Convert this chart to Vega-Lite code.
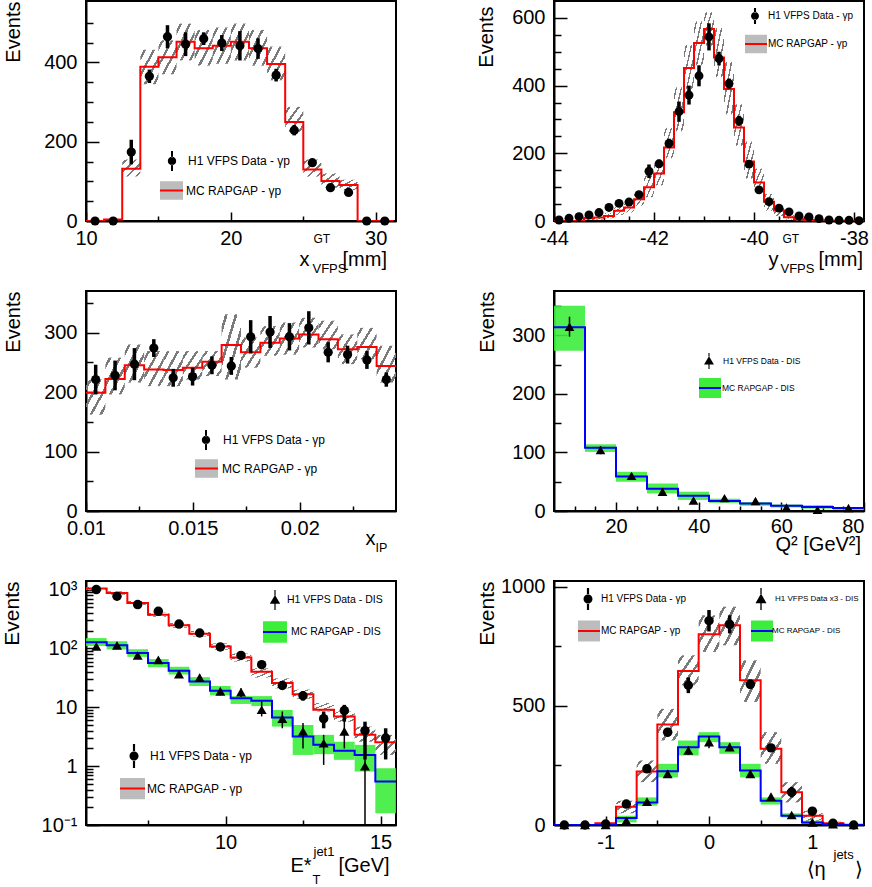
{
"$schema":"https://vega.github.io/schema/vega-lite/v6.json",
"padding":{"left":0,"top":0,"right":0,"bottom":0},
"config":{
 "font":"Liberation Sans",
 "view":{"stroke":"black","strokeWidth":2},
 "axis":{"domainColor":"black","domainWidth":2,"tickColor":"black","tickWidth":1.5,"labelColor":"black","labelFont":"Liberation Sans","labelFontSize":20,"titleFont":"Liberation Sans","titleColor":"black","titleFontWeight":"normal","titleFontSize":20,"grid":false,"labelFlush":false,"labelOverlap":false,"labelBound":false,"titleAlign":"left","titleBaseline":"alphabetic","titlePadding":0},
 "legend":{"padding":0,"labelFont":"Liberation Sans","labelColor":"black","labelLimit":500,"rowPadding":0}
},
"datasets":{
 "p1":[
  {"lo":10,"hi":11.25,"c":10.625,"mc":0,"d":0},
  {"lo":11.25,"hi":12.5,"c":11.875,"mc":4,"d":0},
  {"lo":12.5,"hi":13.75,"c":13.125,"mc":132,"b0":112,"b1":155,"d":174,"e0":143,"e1":205},
  {"lo":13.75,"hi":15,"c":14.375,"mc":389,"b0":345,"b1":432,"d":365,"e0":348,"e1":382},
  {"lo":15,"hi":16.25,"c":15.625,"mc":413,"b0":370,"b1":456,"d":465,"e0":436,"e1":494},
  {"lo":16.25,"hi":17.5,"c":16.875,"mc":452,"b0":405,"b1":498,"d":446,"e0":416,"e1":476},
  {"lo":17.5,"hi":18.75,"c":18.125,"mc":436,"b0":392,"b1":482,"d":460,"e0":444,"e1":476},
  {"lo":18.75,"hi":20,"c":19.375,"mc":442,"b0":397,"b1":488,"d":449,"e0":429,"e1":469},
  {"lo":20,"hi":21.25,"c":20.625,"mc":452,"b0":405,"b1":498,"d":442,"e0":405,"e1":479},
  {"lo":21.25,"hi":22.5,"c":21.875,"mc":436,"b0":392,"b1":482,"d":435,"e0":409,"e1":461},
  {"lo":22.5,"hi":23.75,"c":23.125,"mc":396,"b0":355,"b1":440,"d":368,"e0":352,"e1":384},
  {"lo":23.75,"hi":25,"c":24.375,"mc":250,"b0":225,"b1":288,"d":229,"e0":216,"e1":242},
  {"lo":25,"hi":26.25,"c":25.625,"mc":130,"b0":112,"b1":155,"d":147,"e0":139,"e1":155},
  {"lo":26.25,"hi":27.5,"c":26.875,"mc":101,"b0":84,"b1":120,"d":84,"e0":78,"e1":90},
  {"lo":27.5,"hi":28.75,"c":28.125,"mc":91,"b0":78,"b1":104,"d":72,"e0":66,"e1":78},
  {"lo":28.75,"hi":30,"c":29.375,"mc":0,"d":0},
  {"lo":30,"hi":31.25,"c":30.625,"mc":0,"d":0}
 ],
 "p2":[
  {"lo":-44,"hi":-43.8,"c":-43.9,"mc":0,"d":3,"e0":1,"e1":5},
  {"lo":-43.8,"hi":-43.6,"c":-43.7,"mc":0,"d":8,"e0":5,"e1":11},
  {"lo":-43.6,"hi":-43.4,"c":-43.5,"mc":0,"d":13,"e0":10,"e1":16},
  {"lo":-43.4,"hi":-43.2,"c":-43.3,"mc":8,"b0":3,"b1":13,"d":18,"e0":14,"e1":22},
  {"lo":-43.2,"hi":-43,"c":-43.1,"mc":10,"b0":4,"b1":17,"d":25,"e0":20,"e1":30},
  {"lo":-43,"hi":-42.8,"c":-42.9,"mc":15,"b0":8,"b1":24,"d":40,"e0":34,"e1":46},
  {"lo":-42.8,"hi":-42.6,"c":-42.7,"mc":30,"b0":18,"b1":42,"d":52,"e0":45,"e1":59},
  {"lo":-42.6,"hi":-42.4,"c":-42.5,"mc":40,"b0":25,"b1":55,"d":56,"e0":49,"e1":63},
  {"lo":-42.4,"hi":-42.2,"c":-42.3,"mc":64,"b0":45,"b1":85,"d":78,"e0":69,"e1":87},
  {"lo":-42.2,"hi":-42,"c":-42.1,"mc":100,"b0":70,"b1":135,"d":147,"e0":127,"e1":167},
  {"lo":-42,"hi":-41.8,"c":-41.9,"mc":140,"b0":105,"b1":175,"d":169,"e0":157,"e1":181},
  {"lo":-41.8,"hi":-41.6,"c":-41.7,"mc":217,"b0":185,"b1":275,"d":229,"e0":215,"e1":243},
  {"lo":-41.6,"hi":-41.4,"c":-41.5,"mc":321,"b0":265,"b1":395,"d":323,"e0":293,"e1":353},
  {"lo":-41.4,"hi":-41.2,"c":-41.3,"mc":452,"b0":390,"b1":520,"d":372,"e0":344,"e1":400},
  {"lo":-41.2,"hi":-41,"c":-41.1,"mc":526,"b0":460,"b1":590,"d":429,"e0":398,"e1":460},
  {"lo":-41,"hi":-40.8,"c":-40.9,"mc":567,"b0":518,"b1":617,"d":544,"e0":504,"e1":584},
  {"lo":-40.8,"hi":-40.6,"c":-40.7,"mc":483,"b0":425,"b1":570,"d":480,"e0":460,"e1":500},
  {"lo":-40.6,"hi":-40.4,"c":-40.5,"mc":390,"b0":315,"b1":470,"d":406,"e0":391,"e1":421},
  {"lo":-40.4,"hi":-40.2,"c":-40.3,"mc":276,"b0":222,"b1":345,"d":296,"e0":281,"e1":311},
  {"lo":-40.2,"hi":-40,"c":-40.1,"mc":176,"b0":125,"b1":235,"d":168,"e0":158,"e1":178},
  {"lo":-40,"hi":-39.8,"c":-39.9,"mc":114,"b0":84,"b1":155,"d":92,"e0":84,"e1":100},
  {"lo":-39.8,"hi":-39.6,"c":-39.7,"mc":57,"b0":30,"b1":80,"d":57,"e0":50,"e1":64},
  {"lo":-39.6,"hi":-39.4,"c":-39.5,"mc":31,"b0":15,"b1":45,"d":38,"e0":32,"e1":44},
  {"lo":-39.4,"hi":-39.2,"c":-39.3,"mc":11,"b0":4,"b1":20,"d":27,"e0":22,"e1":32},
  {"lo":-39.2,"hi":-39,"c":-39.1,"mc":5,"b0":1,"b1":10,"d":15,"e0":11,"e1":19},
  {"lo":-39,"hi":-38.8,"c":-38.9,"mc":3,"d":12,"e0":9,"e1":15},
  {"lo":-38.8,"hi":-38.6,"c":-38.7,"mc":2,"d":7,"e0":4,"e1":10},
  {"lo":-38.6,"hi":-38.4,"c":-38.5,"mc":1,"d":3,"e0":1,"e1":5},
  {"lo":-38.4,"hi":-38.2,"c":-38.3,"mc":1,"d":2,"e0":0,"e1":4},
  {"lo":-38.2,"hi":-38,"c":-38.1,"mc":0,"d":2,"e0":0,"e1":4},
  {"lo":-38,"hi":-37.8,"c":-37.9,"mc":0,"d":1,"e0":0,"e1":3}
 ],
 "p3":[
  {"lo":0.01,"hi":0.0109063,"c":0.0104531,"mc":199,"b0":162,"b1":221,"d":221,"e0":196,"e1":246},
  {"lo":0.0109063,"hi":0.0118125,"c":0.0113594,"mc":222,"b0":196,"b1":258,"d":228,"e0":203,"e1":253},
  {"lo":0.0118125,"hi":0.0127188,"c":0.0122656,"mc":245,"b0":216,"b1":280,"d":247,"e0":220,"e1":274},
  {"lo":0.0127188,"hi":0.013625,"c":0.0131719,"mc":238,"b0":210,"b1":269,"d":274,"e0":259,"e1":289},
  {"lo":0.013625,"hi":0.0145313,"c":0.0140781,"mc":237,"b0":210,"b1":269,"d":224,"e0":209,"e1":239},
  {"lo":0.0145313,"hi":0.0154375,"c":0.0149844,"mc":241,"b0":221,"b1":269,"d":226,"e0":211,"e1":241},
  {"lo":0.0154375,"hi":0.0163438,"c":0.0158906,"mc":251,"b0":227,"b1":269,"d":245,"e0":230,"e1":260},
  {"lo":0.0163438,"hi":0.01725,"c":0.0167969,"mc":279,"b0":221,"b1":331,"d":244,"e0":229,"e1":259},
  {"lo":0.01725,"hi":0.0181563,"c":0.0177031,"mc":267,"b0":241,"b1":292,"d":293,"e0":265,"e1":321},
  {"lo":0.0181563,"hi":0.0190625,"c":0.0186094,"mc":283,"b0":261,"b1":311,"d":301,"e0":274,"e1":328},
  {"lo":0.0190625,"hi":0.0199688,"c":0.0195156,"mc":290,"b0":263,"b1":317,"d":293,"e0":270,"e1":316},
  {"lo":0.0199688,"hi":0.020875,"c":0.0204219,"mc":297,"b0":275,"b1":325,"d":308,"e0":280,"e1":336},
  {"lo":0.020875,"hi":0.0217813,"c":0.0213281,"mc":289,"b0":272,"b1":320,"d":267,"e0":250,"e1":284},
  {"lo":0.0217813,"hi":0.0226875,"c":0.0222344,"mc":272,"b0":247,"b1":297,"d":263,"e0":248,"e1":278},
  {"lo":0.0226875,"hi":0.0235938,"c":0.0231406,"mc":276,"b0":255,"b1":308,"d":254,"e0":239,"e1":269},
  {"lo":0.0235938,"hi":0.0245,"c":0.0240469,"mc":244,"b0":216,"b1":278,"d":221,"e0":209,"e1":233}
 ],
 "p4":[
  {"lo":5,"hi":12.5,"c":8.75,"mc":314,"b0":274,"b1":351,"d":315,"e0":298,"e1":332},
  {"lo":12.5,"hi":20,"c":16.25,"mc":108,"b0":101,"b1":114,"d":104,"e0":97,"e1":111},
  {"lo":20,"hi":27.5,"c":23.75,"mc":59,"b0":50,"b1":67,"d":60,"e0":55,"e1":65},
  {"lo":27.5,"hi":35,"c":31.25,"mc":38,"b0":30,"b1":47,"d":33,"e0":29,"e1":37},
  {"lo":35,"hi":42.5,"c":38.75,"mc":26,"b0":19,"b1":33,"d":18,"e0":15,"e1":21},
  {"lo":42.5,"hi":50,"c":46.25,"mc":17,"b0":14,"b1":21,"d":22,"e0":19,"e1":25},
  {"lo":50,"hi":57.5,"c":53.75,"mc":13,"b0":9,"b1":15,"d":17,"e0":14,"e1":20},
  {"lo":57.5,"hi":65,"c":61.25,"mc":9,"b0":6,"b1":11,"d":6,"e0":4,"e1":8},
  {"lo":65,"hi":72.5,"c":68.75,"mc":7,"b0":4,"b1":10,"d":2,"e0":1,"e1":3},
  {"lo":72.5,"hi":80,"c":76.25,"mc":5,"b0":2,"b1":6,"d":5,"e0":3,"e1":7}
 ],
 "p5g":[
  {"lo":5.5,"hi":6.1667,"c":5.8333,"mc":1040,"b0":970,"b1":1110,"d":1000,"e0":970,"e1":1030},
  {"lo":6.1667,"hi":6.8333,"c":6.5,"mc":877,"b0":820,"b1":940,"d":771,"e0":748,"e1":794},
  {"lo":6.8333,"hi":7.5,"c":7.1667,"mc":593,"b0":550,"b1":640,"d":556,"e0":538,"e1":574},
  {"lo":7.5,"hi":8.1667,"c":7.8333,"mc":375,"b0":345,"b1":405,"d":428,"e0":413,"e1":443},
  {"lo":8.1667,"hi":8.8333,"c":8.5,"mc":247,"b0":225,"b1":270,"d":260,"e0":250,"e1":270},
  {"lo":8.8333,"hi":9.5,"c":9.1667,"mc":178,"b0":160,"b1":198,"d":183,"e0":175,"e1":191},
  {"lo":9.5,"hi":10.1667,"c":9.8333,"mc":108,"b0":95,"b1":122,"d":106,"e0":100,"e1":112},
  {"lo":10.1667,"hi":10.8333,"c":10.5,"mc":70,"b0":60,"b1":82,"d":76,"e0":71,"e1":81},
  {"lo":10.8333,"hi":11.5,"c":11.1667,"mc":40,"b0":32,"b1":46,"d":53,"e0":49,"e1":57},
  {"lo":11.5,"hi":12.1667,"c":11.8333,"mc":26,"b0":21,"b1":31,"d":23.5,"e0":20,"e1":27},
  {"lo":12.1667,"hi":12.8333,"c":12.5,"mc":16.7,"b0":14,"b1":20,"d":15.7,"e0":13,"e1":18.5},
  {"lo":12.8333,"hi":13.5,"c":13.1667,"mc":9.1,"b0":8.5,"b1":11.8,"d":6.4,"e0":4.4,"e1":8.5},
  {"lo":13.5,"hi":14.1667,"c":13.8333,"mc":7,"b0":5.7,"b1":8.5,"d":8.8,"e0":5.7,"e1":11},
  {"lo":14.1667,"hi":14.8333,"c":14.5,"mc":3.4,"b0":2.6,"b1":4.7,"d":4,"e0":1.3,"e1":5.7},
  {"lo":14.8333,"hi":15.5,"c":15.1667,"mc":2.55,"b0":1.55,"b1":3.4,"d":3,"e0":1.3,"e1":4.4}
 ],
 "p5d":[
  {"lo":5.5,"hi":6.1667,"c":5.8333,"mc":128,"b0":110,"b1":150,"d":108,"e0":98,"e1":118},
  {"lo":6.1667,"hi":6.8333,"c":6.5,"mc":113,"b0":96,"b1":132,"d":113,"e0":103,"e1":123},
  {"lo":6.8333,"hi":7.5,"c":7.1667,"mc":83.5,"b0":72,"b1":97,"d":76,"e0":69,"e1":83},
  {"lo":7.5,"hi":8.1667,"c":7.8333,"mc":56.5,"b0":48,"b1":66,"d":64,"e0":58,"e1":70},
  {"lo":8.1667,"hi":8.8333,"c":8.5,"mc":41.8,"b0":36,"b1":49,"d":36.7,"e0":32,"e1":41},
  {"lo":8.8333,"hi":9.5,"c":9.1667,"mc":27.5,"b0":23,"b1":32.5,"d":32,"e0":28,"e1":36},
  {"lo":9.5,"hi":10.1667,"c":9.8333,"mc":19.1,"b0":16,"b1":23,"d":18.6,"e0":16,"e1":21.5},
  {"lo":10.1667,"hi":10.8333,"c":10.5,"mc":14.3,"b0":11.4,"b1":15.5,"d":18.1,"e0":15,"e1":21},
  {"lo":10.8333,"hi":11.5,"c":11.1667,"mc":12.9,"b0":10.5,"b1":15.5,"d":9.1,"e0":7,"e1":12.5},
  {"lo":11.5,"hi":12.1667,"c":11.8333,"mc":6.7,"b0":4.7,"b1":9,"d":6.4,"e0":4.4,"e1":8.5},
  {"lo":12.1667,"hi":12.8333,"c":12.5,"mc":3.19,"b0":1.55,"b1":5,"d":3.9,"e0":2,"e1":5.4},
  {"lo":12.8333,"hi":13.5,"c":13.1667,"mc":2.3,"b0":1.6,"b1":3.4,"d":2.45,"e0":1.05,"e1":3.4},
  {"lo":13.5,"hi":14.1667,"c":13.8333,"mc":1.82,"b0":1.28,"b1":2.6,"d":3.9,"e0":2,"e1":6.1},
  {"lo":14.1667,"hi":14.8333,"c":14.5,"mc":1.55,"b0":0.81,"b1":2.3,"d":1,"e0":0.01,"e1":1.9},
  {"lo":14.8333,"hi":15.5,"c":15.1667,"mc":0.547,"b0":0.158,"b1":0.92}
 ],
 "p6g":[
  {"lo":-1.5,"hi":-1.3,"c":-1.4,"mc":0,"d":0},
  {"lo":-1.3,"hi":-1.1,"c":-1.2,"mc":0,"d":0},
  {"lo":-1.1,"hi":-0.9,"c":-1,"mc":7,"d":4},
  {"lo":-0.9,"hi":-0.7,"c":-0.8,"mc":77,"b0":49,"b1":102,"d":88,"e0":80,"e1":96},
  {"lo":-0.7,"hi":-0.5,"c":-0.6,"mc":225,"b0":180,"b1":271,"d":236,"e0":224,"e1":248},
  {"lo":-0.5,"hi":-0.3,"c":-0.4,"mc":422,"b0":355,"b1":488,"d":390,"e0":372,"e1":408},
  {"lo":-0.3,"hi":-0.1,"c":-0.2,"mc":647,"b0":587,"b1":713,"d":587,"e0":554,"e1":620},
  {"lo":-0.1,"hi":0.1,"c":0,"mc":801,"b0":727,"b1":881,"d":858,"e0":813,"e1":903},
  {"lo":0.1,"hi":0.3,"c":0.2,"mc":839,"b0":755,"b1":917,"d":843,"e0":805,"e1":881},
  {"lo":0.3,"hi":0.5,"c":0.4,"mc":608,"b0":517,"b1":692,"d":591,"e0":571,"e1":611},
  {"lo":0.5,"hi":0.7,"c":0.6,"mc":320,"b0":257,"b1":390,"d":324,"e0":314,"e1":334},
  {"lo":0.7,"hi":0.9,"c":0.8,"mc":138,"b0":95,"b1":180,"d":138,"e0":116,"e1":160},
  {"lo":0.9,"hi":1.1,"c":1,"mc":39,"b0":18,"b1":60,"d":58,"e0":50,"e1":66},
  {"lo":1.1,"hi":1.3,"c":1.2,"mc":7,"b0":3,"b1":14,"d":7,"e0":4,"e1":10},
  {"lo":1.3,"hi":1.5,"c":1.4,"mc":1,"d":0}
 ],
 "p6d":[
  {"lo":-1.5,"hi":-1.3,"c":-1.4,"mc":0,"d":0},
  {"lo":-1.3,"hi":-1.1,"c":-1.2,"mc":0,"d":0},
  {"lo":-1.1,"hi":-0.9,"c":-1,"mc":0,"d":0},
  {"lo":-0.9,"hi":-0.7,"c":-0.8,"mc":29,"b0":11,"b1":39,"d":18,"e0":12,"e1":24},
  {"lo":-0.7,"hi":-0.5,"c":-0.6,"mc":95,"b0":81,"b1":116,"d":98,"e0":88,"e1":108},
  {"lo":-0.5,"hi":-0.3,"c":-0.4,"mc":226,"b0":200,"b1":257,"d":215,"e0":200,"e1":230},
  {"lo":-0.3,"hi":-0.1,"c":-0.2,"mc":327,"b0":292,"b1":355,"d":313,"e0":295,"e1":331},
  {"lo":-0.1,"hi":0.1,"c":0,"mc":372,"b0":348,"b1":390,"d":348,"e0":322,"e1":374},
  {"lo":0.1,"hi":0.3,"c":0.2,"mc":327,"b0":299,"b1":348,"d":327,"e0":310,"e1":344},
  {"lo":0.3,"hi":0.5,"c":0.4,"mc":229,"b0":200,"b1":257,"d":215,"e0":200,"e1":230},
  {"lo":0.5,"hi":0.7,"c":0.6,"mc":102,"b0":86,"b1":116,"d":119,"e0":109,"e1":129},
  {"lo":0.7,"hi":0.9,"c":0.8,"mc":39,"b0":32,"b1":49,"d":42,"e0":36,"e1":48},
  {"lo":0.9,"hi":1.1,"c":1,"mc":11,"b0":4,"b1":18,"d":11,"e0":7,"e1":15},
  {"lo":1.1,"hi":1.3,"c":1.2,"mc":3,"d":3},
  {"lo":1.3,"hi":1.5,"c":1.4,"mc":0,"d":0}
 ]
},
"columns":2,
"spacing":{"row":70,"column":158},
"bounds":"flush",
"align":"each",
"resolve":{"scale":{"opacity":"independent","color":"independent","stroke":"independent","strokeWidth":"independent"},"legend":{"opacity":"independent","color":"independent","stroke":"independent","strokeWidth":"independent"}},
"concat":[
  {"width":310,"height":220,"data":{"name":"p1"},
   "layer":[
    {"mark":{"type":"rect","fill":{"gradient":"linear","x1":0,"y1":0,"x2":1,"y2":1,"stops":[{"offset":0,"color":"rgba(255,255,255,0)"},{"offset":0.09,"color":"rgba(255,255,255,0)"},{"offset":0.09,"color":"#7a7a7a"},{"offset":0.16,"color":"#7a7a7a"},{"offset":0.16,"color":"rgba(255,255,255,0)"},{"offset":0.34,"color":"rgba(255,255,255,0)"},{"offset":0.34,"color":"#7a7a7a"},{"offset":0.41,"color":"#7a7a7a"},{"offset":0.41,"color":"rgba(255,255,255,0)"},{"offset":0.59,"color":"rgba(255,255,255,0)"},{"offset":0.59,"color":"#7a7a7a"},{"offset":0.66,"color":"#7a7a7a"},{"offset":0.66,"color":"rgba(255,255,255,0)"},{"offset":0.84,"color":"rgba(255,255,255,0)"},{"offset":0.84,"color":"#7a7a7a"},{"offset":0.91,"color":"#7a7a7a"},{"offset":0.91,"color":"rgba(255,255,255,0)"},{"offset":1,"color":"rgba(255,255,255,0)"}]}},
     "encoding":{
      "x":{"field":"lo","type":"quantitative","scale":{"domain":[10,31.4],"nice":false,"zero":false},"axis":{"orient":"bottom","values":[10,20,30],"tickSize":-9,"labelPadding":16,"labelExpr":"toString(datum.value)","title":"x","titleX":213,"titleY":44}},
      "x2":{"field":"hi"},
      "y":{"field":"b0","type":"quantitative","scale":{"domain":[0,555],"nice":false,"zero":false},"axis":{"orient":"left","values":[0,200,400],"tickSize":-13,"labelPadding":22,"labelExpr":"toString(datum.value)","title":"Events","titleAngle":-90,"titleAlign":"right","titleX":-67,"titleY":0}},
      "y2":{"field":"b1"}}},
    {"transform":[{"fold":["lo","hi"],"as":["k","edge"]}],
     "mark":{"type":"line","strokeWidth":2,"clip":true},
     "encoding":{
      "x":{"field":"edge","type":"quantitative","scale":{"domain":[10,31.4],"nice":false,"zero":false},"axis":{"orient":"bottom","values":[15,25],"tickSize":-5,"labels":false,"domain":false,"title":"GT","titleFontSize":12,"titleX":227,"titleY":21}},
      "y":{"field":"mc","type":"quantitative","scale":{"domain":[0,555],"nice":false,"zero":false},"axis":{"orient":"left","values":[50,100,150,250,300,350,450,500],"tickSize":-7,"labels":false,"domain":false,"title":null}},
      "order":[{"field":"edge","type":"quantitative"},{"field":"k","type":"ordinal"}],
      "stroke":{"datum":"MC RAPGAP - γp","scale":{"range":["#ff0000"]},"legend":{"orient":"none","legendX":73,"legendY":177,"title":null,"symbolType":"M-1,0H1V0.8H-1V-0.8H1V0Z","symbolSize":529,"symbolFillColor":"#bcbcbc","symbolStrokeWidth":2,"symbolDash":[23,1000],"labelFontSize":12,"labelOffset":2}}}},
    {"mark":{"type":"rule","color":"black","strokeWidth":3.5},
     "encoding":{
      "x":{"field":"c","type":"quantitative","scale":{"domain":[10,31.4],"nice":false,"zero":false},"axis":{"orient":"bottom","ticks":false,"labels":false,"domain":false,"title":"VFPS","titleFontSize":13,"titleX":226,"titleY":51}},
      "y":{"field":"e0","type":"quantitative","scale":{"domain":[0,555],"nice":false,"zero":false},"axis":null},
      "y2":{"field":"e1"}}},
    {"mark":{"type":"point","filled":true,"shape":"circle","color":"black","size":85},
     "encoding":{
      "x":{"field":"c","type":"quantitative","scale":{"domain":[10,31.4],"nice":false,"zero":false},"axis":{"orient":"bottom","ticks":false,"labels":false,"domain":false,"title":"[mm]","titleX":256,"titleY":44}},
      "y":{"field":"d","type":"quantitative","scale":{"domain":[0,555],"nice":false,"zero":false},"axis":null},
      "opacity":{"datum":"H1 VFPS Data - γp","scale":{"range":[1,1]},"legend":{"orient":"none","legendX":76,"legendY":150,"title":null,"symbolType":"M-0.42,0A0.42,0.42,0,1,0,0.42,0A0.42,0.42,0,1,0,-0.42,0Z M-0.1,-1H0.1V-0.38H-0.1Z M-0.1,0.38H0.1V1H-0.1Z","symbolSize":400,"symbolFillColor":"black","symbolStrokeWidth":0,"labelFontSize":12,"labelOffset":6}}}}
   ],
   "resolve":{"axis":{"x":"independent","y":"independent"}}},
  {"width":310,"height":220,"data":{"name":"p2"},
   "layer":[
    {"mark":{"type":"rect","fill":{"gradient":"linear","x1":0,"y1":0,"x2":1,"y2":1,"stops":[{"offset":0,"color":"rgba(255,255,255,0)"},{"offset":0.09,"color":"rgba(255,255,255,0)"},{"offset":0.09,"color":"#7a7a7a"},{"offset":0.16,"color":"#7a7a7a"},{"offset":0.16,"color":"rgba(255,255,255,0)"},{"offset":0.34,"color":"rgba(255,255,255,0)"},{"offset":0.34,"color":"#7a7a7a"},{"offset":0.41,"color":"#7a7a7a"},{"offset":0.41,"color":"rgba(255,255,255,0)"},{"offset":0.59,"color":"rgba(255,255,255,0)"},{"offset":0.59,"color":"#7a7a7a"},{"offset":0.66,"color":"#7a7a7a"},{"offset":0.66,"color":"rgba(255,255,255,0)"},{"offset":0.84,"color":"rgba(255,255,255,0)"},{"offset":0.84,"color":"#7a7a7a"},{"offset":0.91,"color":"#7a7a7a"},{"offset":0.91,"color":"rgba(255,255,255,0)"},{"offset":1,"color":"rgba(255,255,255,0)"}]}},
     "encoding":{
      "x":{"field":"lo","type":"quantitative","scale":{"domain":[-44,-37.8],"nice":false,"zero":false},"axis":{"orient":"bottom","values":[-44,-42,-40,-38],"tickSize":-9,"labelPadding":16,"labelExpr":"toString(datum.value)","title":"y","titleX":214,"titleY":44}},
      "x2":{"field":"hi"},
      "y":{"field":"b0","type":"quantitative","scale":{"domain":[0,650],"nice":false,"zero":false},"axis":{"orient":"left","values":[0,200,400,600],"tickSize":-13,"labelPadding":22,"labelExpr":"toString(datum.value)","title":"Events","titleAngle":-90,"titleAlign":"right","titleX":-62,"titleY":5}},
      "y2":{"field":"b1"}}},
    {"transform":[{"fold":["lo","hi"],"as":["k","edge"]}],
     "mark":{"type":"line","strokeWidth":2,"clip":true},
     "encoding":{
      "x":{"field":"edge","type":"quantitative","scale":{"domain":[-44,-37.8],"nice":false,"zero":false},"axis":{"orient":"bottom","values":[-43.5,-43,-42.5,-41.5,-41,-40.5,-39.5,-39,-38.5],"tickSize":-5,"labels":false,"domain":false,"title":"GT","titleFontSize":12,"titleX":228,"titleY":21}},
      "y":{"field":"mc","type":"quantitative","scale":{"domain":[0,650],"nice":false,"zero":false},"axis":{"orient":"left","values":[50,100,150,250,300,350,450,500,550],"tickSize":-7,"labels":false,"domain":false,"title":null}},
      "order":[{"field":"edge","type":"quantitative"},{"field":"k","type":"ordinal"}],
      "stroke":{"datum":"MC RAPGAP - γp","scale":{"range":["#ff0000"]},"legend":{"orient":"none","legendX":190,"legendY":31,"title":null,"symbolType":"M-1,0H1V0.85H-1V-0.85H1V0Z","symbolSize":484,"symbolFillColor":"#bcbcbc","symbolStrokeWidth":2,"symbolDash":[22,1000],"labelFontSize":10,"labelOffset":0}}}},
    {"mark":{"type":"rule","color":"black","strokeWidth":3.5},
     "encoding":{
      "x":{"field":"c","type":"quantitative","scale":{"domain":[-44,-37.8],"nice":false,"zero":false},"axis":{"orient":"bottom","ticks":false,"labels":false,"domain":false,"title":"VFPS","titleFontSize":13,"titleX":226,"titleY":51}},
      "y":{"field":"e0","type":"quantitative","scale":{"domain":[0,650],"nice":false,"zero":false},"axis":null},
      "y2":{"field":"e1"}}},
    {"mark":{"type":"point","filled":true,"shape":"circle","color":"black","size":80},
     "encoding":{
      "x":{"field":"c","type":"quantitative","scale":{"domain":[-44,-37.8],"nice":false,"zero":false},"axis":{"orient":"bottom","ticks":false,"labels":false,"domain":false,"title":"[mm]","titleX":264,"titleY":44}},
      "y":{"field":"d","type":"quantitative","scale":{"domain":[0,650],"nice":false,"zero":false},"axis":null},
      "opacity":{"datum":"H1 VFPS Data - γp","scale":{"range":[1,1]},"legend":{"orient":"none","legendX":193,"legendY":7,"title":null,"symbolType":"M-0.5,0A0.5,0.5,0,1,0,0.5,0A0.5,0.5,0,1,0,-0.5,0Z M-0.13,-1H0.13V-0.45H-0.13Z M-0.13,0.45H0.13V1H-0.13Z","symbolSize":256,"symbolFillColor":"black","symbolStrokeWidth":0,"labelFontSize":10,"labelOffset":5}}}}
   ],
   "resolve":{"axis":{"x":"independent","y":"independent"}}},
  {"width":310,"height":220,"data":{"name":"p3"},
   "layer":[
    {"mark":{"type":"rect","fill":{"gradient":"linear","x1":0,"y1":0,"x2":1,"y2":1,"stops":[{"offset":0,"color":"rgba(255,255,255,0)"},{"offset":0.09,"color":"rgba(255,255,255,0)"},{"offset":0.09,"color":"#7a7a7a"},{"offset":0.16,"color":"#7a7a7a"},{"offset":0.16,"color":"rgba(255,255,255,0)"},{"offset":0.34,"color":"rgba(255,255,255,0)"},{"offset":0.34,"color":"#7a7a7a"},{"offset":0.41,"color":"#7a7a7a"},{"offset":0.41,"color":"rgba(255,255,255,0)"},{"offset":0.59,"color":"rgba(255,255,255,0)"},{"offset":0.59,"color":"#7a7a7a"},{"offset":0.66,"color":"#7a7a7a"},{"offset":0.66,"color":"rgba(255,255,255,0)"},{"offset":0.84,"color":"rgba(255,255,255,0)"},{"offset":0.84,"color":"#7a7a7a"},{"offset":0.91,"color":"#7a7a7a"},{"offset":0.91,"color":"rgba(255,255,255,0)"},{"offset":1,"color":"rgba(255,255,255,0)"}]}},
     "encoding":{
      "x":{"field":"lo","type":"quantitative","scale":{"domain":[0.01,0.0245],"nice":false,"zero":false},"axis":{"orient":"bottom","values":[0.01,0.015,0.02],"tickSize":-9,"labelPadding":16,"labelExpr":"toString(datum.value)","title":"x","titleX":279,"titleY":33}},
      "x2":{"field":"hi"},
      "y":{"field":"b0","type":"quantitative","scale":{"domain":[0,370],"nice":false,"zero":false},"axis":{"orient":"left","values":[0,100,200,300],"tickSize":-13,"labelPadding":22,"labelExpr":"toString(datum.value)","title":"Events","titleAngle":-90,"titleAlign":"right","titleX":-67,"titleY":0}},
      "y2":{"field":"b1"}}},
    {"transform":[{"fold":["lo","hi"],"as":["k","edge"]}],
     "mark":{"type":"line","strokeWidth":2,"clip":true},
     "encoding":{
      "x":{"field":"edge","type":"quantitative","scale":{"domain":[0.01,0.0245],"nice":false,"zero":false},"axis":{"orient":"bottom","values":[0.0125,0.0175,0.0225],"tickSize":-5,"labels":false,"domain":false,"title":"IP","titleFontSize":12.5,"titleX":289,"titleY":40}},
      "y":{"field":"mc","type":"quantitative","scale":{"domain":[0,370],"nice":false,"zero":false},"axis":{"orient":"left","values":[50,150,250,350],"tickSize":-7,"labels":false,"domain":false,"title":null}},
      "order":[{"field":"edge","type":"quantitative"},{"field":"k","type":"ordinal"}],
      "stroke":{"datum":"MC RAPGAP - γp","scale":{"range":["#ff0000"]},"legend":{"orient":"none","legendX":108,"legendY":165,"title":null,"symbolType":"M-1,0H1V0.8H-1V-0.8H1V0Z","symbolSize":529,"symbolFillColor":"#bcbcbc","symbolStrokeWidth":2,"symbolDash":[23,1000],"labelFontSize":12,"labelOffset":3}}}},
    {"mark":{"type":"rule","color":"black","strokeWidth":3.5},
     "encoding":{
      "x":{"field":"c","type":"quantitative","scale":{"domain":[0.01,0.0245],"nice":false,"zero":false},"axis":null},
      "y":{"field":"e0","type":"quantitative","scale":{"domain":[0,370],"nice":false,"zero":false},"axis":null},
      "y2":{"field":"e1"}}},
    {"mark":{"type":"point","filled":true,"shape":"circle","color":"black","size":85},
     "encoding":{
      "x":{"field":"c","type":"quantitative","scale":{"domain":[0.01,0.0245],"nice":false,"zero":false},"axis":null},
      "y":{"field":"d","type":"quantitative","scale":{"domain":[0,370],"nice":false,"zero":false},"axis":null},
      "opacity":{"datum":"H1 VFPS Data - γp","scale":{"range":[1,1]},"legend":{"orient":"none","legendX":110,"legendY":139,"title":null,"symbolType":"M-0.42,0A0.42,0.42,0,1,0,0.42,0A0.42,0.42,0,1,0,-0.42,0Z M-0.1,-1H0.1V-0.38H-0.1Z M-0.1,0.38H0.1V1H-0.1Z","symbolSize":400,"symbolFillColor":"black","symbolStrokeWidth":0,"labelFontSize":12,"labelOffset":7}}}}
   ],
   "resolve":{"axis":{"x":"independent","y":"independent"}}},
  {"width":310,"height":220,"data":{"name":"p4"},
   "layer":[
    {"mark":{"type":"rect","fill":"#3ced3c","fillOpacity":0.9},
     "encoding":{
      "x":{"field":"lo","type":"quantitative","scale":{"domain":[5,80],"nice":false,"zero":false},"axis":{"orient":"bottom","values":[20,40,60,80],"tickSize":-9,"labelPadding":14,"labelFlush":true,"labelExpr":"toString(datum.value)","title":"Q² [GeV²]","titleX":221,"titleY":39}},
      "x2":{"field":"hi"},
      "y":{"field":"b0","type":"quantitative","scale":{"domain":[0,376],"nice":false,"zero":false},"axis":{"orient":"left","values":[0,100,200,300],"tickSize":-13,"labelPadding":22,"labelExpr":"toString(datum.value)","title":"Events","titleAngle":-90,"titleAlign":"right","titleX":-61,"titleY":0}},
      "y2":{"field":"b1"}}},
    {"transform":[{"fold":["lo","hi"],"as":["k","edge"]}],
     "mark":{"type":"line","color":"#0000ff","clip":true},
     "encoding":{
      "x":{"field":"edge","type":"quantitative","scale":{"domain":[5,80],"nice":false,"zero":false},"axis":{"orient":"bottom","values":[10,15,25,30,35,45,50,55,65,70,75],"tickSize":-5,"labels":false,"domain":false,"title":null}},
      "y":{"field":"mc","type":"quantitative","scale":{"domain":[0,376],"nice":false,"zero":false},"axis":{"orient":"left","values":[50,150,250,350],"tickSize":-7,"labels":false,"domain":false,"title":null}},
      "order":[{"field":"edge","type":"quantitative"},{"field":"k","type":"ordinal"}],
      "strokeWidth":{"datum":"MC RAPGAP - DIS","scale":{"range":[2,2]},"legend":{"orient":"none","legendX":144,"legendY":85,"title":null,"symbolType":"M-1,0H1V0.9H-1V-0.9H1V0Z","symbolSize":484,"symbolFillColor":"#3ced3c","symbolStrokeColor":"#0000ff","symbolDash":[22,1000],"labelFontSize":8.5,"labelOffset":0}}}},
    {"mark":{"type":"rule","color":"black","strokeWidth":1.5},
     "encoding":{
      "x":{"field":"c","type":"quantitative","scale":{"domain":[5,80],"nice":false,"zero":false},"axis":null},
      "y":{"field":"e0","type":"quantitative","scale":{"domain":[0,376],"nice":false,"zero":false},"axis":null},
      "y2":{"field":"e1"}}},
    {"mark":{"type":"point","filled":true,"shape":"triangle-up","size":95,"opacity":1},
     "encoding":{
      "x":{"field":"c","type":"quantitative","scale":{"domain":[5,80],"nice":false,"zero":false},"axis":null},
      "y":{"field":"d","type":"quantitative","scale":{"domain":[0,376],"nice":false,"zero":false},"axis":null},
      "color":{"datum":"H1 VFPS Data - DIS","scale":{"range":["black"]},"legend":{"orient":"none","legendX":147,"legendY":62,"title":null,"symbolType":"M0,-0.6L0.62,0.45L-0.62,0.45Z M-0.07,-1H0.07V-0.55H-0.07Z M-0.07,0.45H0.07V1H-0.07Z","symbolSize":256,"symbolStrokeWidth":0,"symbolOpacity":1,"labelFontSize":8.5,"labelOffset":6}}}}
   ],
   "resolve":{"axis":{"x":"independent","y":"independent"}}},
  {"width":310,"height":244,
   "layer":[
    {"data":{"name":"p5g"},"mark":{"type":"rect","fill":{"gradient":"linear","x1":0,"y1":0,"x2":1,"y2":1,"stops":[{"offset":0,"color":"rgba(255,255,255,0)"},{"offset":0.09,"color":"rgba(255,255,255,0)"},{"offset":0.09,"color":"#7a7a7a"},{"offset":0.16,"color":"#7a7a7a"},{"offset":0.16,"color":"rgba(255,255,255,0)"},{"offset":0.34,"color":"rgba(255,255,255,0)"},{"offset":0.34,"color":"#7a7a7a"},{"offset":0.41,"color":"#7a7a7a"},{"offset":0.41,"color":"rgba(255,255,255,0)"},{"offset":0.59,"color":"rgba(255,255,255,0)"},{"offset":0.59,"color":"#7a7a7a"},{"offset":0.66,"color":"#7a7a7a"},{"offset":0.66,"color":"rgba(255,255,255,0)"},{"offset":0.84,"color":"rgba(255,255,255,0)"},{"offset":0.84,"color":"#7a7a7a"},{"offset":0.91,"color":"#7a7a7a"},{"offset":0.91,"color":"rgba(255,255,255,0)"},{"offset":1,"color":"rgba(255,255,255,0)"}]}},
     "encoding":{
      "x":{"field":"lo","type":"quantitative","scale":{"domain":[5.5,15.5],"nice":false,"zero":false},"axis":{"orient":"bottom","values":[10,15],"tickSize":-9,"labelPadding":16,"labelExpr":"toString(datum.value)","title":"E*","titleX":204,"titleY":46}},
      "x2":{"field":"hi"},
      "y":{"field":"b0","type":"quantitative","scale":{"type":"log","domain":[0.1,1400],"nice":false,"zero":false},"axis":{"orient":"left","values":[0.1,1,10,100,1000],"tickSize":-13,"labelPadding":22,"labelExpr":"datum.value == 1000 ? '10³' : datum.value == 100 ? '10²' : datum.value == 0.1 ? '10⁻¹' : toString(datum.value)","title":"Events","titleFontSize":21,"titleAngle":-90,"titleAlign":"right","titleX":-68,"titleY":0}},
      "y2":{"field":"b1"}}},
    {"data":{"name":"p5d"},"mark":{"type":"rect","fill":"#3ced3c","fillOpacity":0.9},
     "encoding":{
      "x":{"field":"lo","type":"quantitative","scale":{"domain":[5.5,15.5],"nice":false,"zero":false},"axis":{"orient":"bottom","values":[7.5,12.5],"tickSize":-5,"labels":false,"domain":false,"title":"jet1","titleFontSize":13,"titleX":227,"titleY":30}},
      "x2":{"field":"hi"},
      "y":{"field":"b0","type":"quantitative","scale":{"type":"log","domain":[0.1,1400],"nice":false,"zero":false},"axis":{"orient":"left","values":[0.2,0.3,0.4,0.5,0.6,0.7,0.8,0.9,2,3,4,5,6,7,8,9,20,30,40,50,60,70,80,90,200,300,400,500,600,700,800,900],"tickSize":-7,"labels":false,"domain":false,"title":null}},
      "y2":{"field":"b1"}}},
    {"data":{"name":"p5g"},"transform":[{"fold":["lo","hi"],"as":["k","edge"]}],
     "mark":{"type":"line","strokeWidth":2,"clip":true},
     "encoding":{
      "x":{"field":"edge","type":"quantitative","scale":{"domain":[5.5,15.5],"nice":false,"zero":false},"axis":{"orient":"bottom","ticks":false,"labels":false,"domain":false,"title":"T","titleFontSize":13,"titleX":226,"titleY":58}},
      "y":{"field":"mc","type":"quantitative","scale":{"type":"log","domain":[0.1,1400],"nice":false,"zero":false},"axis":null},
      "order":[{"field":"edge","type":"quantitative"},{"field":"k","type":"ordinal"}],
      "stroke":{"datum":"MC RAPGAP - γp","scale":{"range":["#ff0000"]},"legend":{"orient":"none","legendX":33,"legendY":194,"title":null,"symbolType":"M-1,0H1V0.85H-1V-0.85H1V0Z","symbolSize":625,"symbolFillColor":"#bcbcbc","symbolStrokeWidth":2,"symbolDash":[25,1000],"labelFontSize":12,"labelOffset":1}}}},
    {"data":{"name":"p5d"},"transform":[{"fold":["lo","hi"],"as":["k","edge"]}],
     "mark":{"type":"line","color":"#0000ff","clip":true},
     "encoding":{
      "x":{"field":"edge","type":"quantitative","scale":{"domain":[5.5,15.5],"nice":false,"zero":false},"axis":{"orient":"bottom","ticks":false,"labels":false,"domain":false,"title":"[GeV]","titleX":252,"titleY":46}},
      "y":{"field":"mc","type":"quantitative","scale":{"type":"log","domain":[0.1,1400],"nice":false,"zero":false},"axis":null},
      "order":[{"field":"edge","type":"quantitative"},{"field":"k","type":"ordinal"}],
      "strokeWidth":{"datum":"MC RAPGAP - DIS","scale":{"range":[2,2]},"legend":{"orient":"none","legendX":176,"legendY":38,"title":null,"symbolType":"M-1,0H1V0.9H-1V-0.9H1V0Z","symbolSize":576,"symbolFillColor":"#3ced3c","symbolStrokeColor":"#0000ff","symbolDash":[24,1000],"labelFontSize":10.5,"labelOffset":3}}}},
    {"data":{"name":"p5g"},"mark":{"type":"rule","color":"black","strokeWidth":3.5,"clip":true},
     "encoding":{
      "x":{"field":"c","type":"quantitative","scale":{"domain":[5.5,15.5],"nice":false,"zero":false},"axis":null},
      "y":{"field":"e0","type":"quantitative","scale":{"type":"log","domain":[0.1,1400],"nice":false,"zero":false},"axis":null},
      "y2":{"field":"e1"}}},
    {"data":{"name":"p5d"},"mark":{"type":"rule","color":"black","strokeWidth":1.5,"clip":true},
     "encoding":{
      "x":{"field":"c","type":"quantitative","scale":{"domain":[5.5,15.5],"nice":false,"zero":false},"axis":null},
      "y":{"field":"e0","type":"quantitative","scale":{"type":"log","domain":[0.1,1400],"nice":false,"zero":false},"axis":null},
      "y2":{"field":"e1"}}},
    {"data":{"name":"p5g"},"mark":{"type":"point","filled":true,"shape":"circle","color":"black","size":90},
     "encoding":{
      "x":{"field":"c","type":"quantitative","scale":{"domain":[5.5,15.5],"nice":false,"zero":false},"axis":null},
      "y":{"field":"d","type":"quantitative","scale":{"type":"log","domain":[0.1,1400],"nice":false,"zero":false},"axis":null},
      "opacity":{"datum":"H1 VFPS Data - γp","scale":{"range":[1,1]},"legend":{"orient":"none","legendX":36,"legendY":163,"title":null,"symbolType":"M-0.38,0A0.38,0.38,0,1,0,0.38,0A0.38,0.38,0,1,0,-0.38,0Z M-0.09,-1H0.09V-0.34H-0.09Z M-0.09,0.34H0.09V1H-0.09Z","symbolSize":576,"symbolFillColor":"black","symbolStrokeWidth":0,"labelFontSize":12,"labelOffset":4}}}},
    {"data":{"name":"p5d"},"mark":{"type":"point","filled":true,"shape":"triangle-up","size":100,"opacity":1},
     "encoding":{
      "x":{"field":"c","type":"quantitative","scale":{"domain":[5.5,15.5],"nice":false,"zero":false},"axis":null},
      "y":{"field":"d","type":"quantitative","scale":{"type":"log","domain":[0.1,1400],"nice":false,"zero":false},"axis":null},
      "color":{"datum":"H1 VFPS Data - DIS","scale":{"range":["black"]},"legend":{"orient":"none","legendX":179,"legendY":9,"title":null,"symbolType":"M0,-0.5L0.52,0.38L-0.52,0.38Z M-0.06,-1H0.06V-0.45H-0.06Z M-0.06,0.38H0.06V1H-0.06Z","symbolSize":400,"symbolStrokeWidth":0,"symbolOpacity":1,"labelFontSize":10.5,"labelOffset":2}}}}
   ],
   "resolve":{"axis":{"x":"independent","y":"independent"}}},
  {"width":310,"height":244,
   "layer":[
    {"data":{"name":"p6g"},"mark":{"type":"rect","fill":{"gradient":"linear","x1":0,"y1":0,"x2":1,"y2":1,"stops":[{"offset":0,"color":"rgba(255,255,255,0)"},{"offset":0.09,"color":"rgba(255,255,255,0)"},{"offset":0.09,"color":"#7a7a7a"},{"offset":0.16,"color":"#7a7a7a"},{"offset":0.16,"color":"rgba(255,255,255,0)"},{"offset":0.34,"color":"rgba(255,255,255,0)"},{"offset":0.34,"color":"#7a7a7a"},{"offset":0.41,"color":"#7a7a7a"},{"offset":0.41,"color":"rgba(255,255,255,0)"},{"offset":0.59,"color":"rgba(255,255,255,0)"},{"offset":0.59,"color":"#7a7a7a"},{"offset":0.66,"color":"#7a7a7a"},{"offset":0.66,"color":"rgba(255,255,255,0)"},{"offset":0.84,"color":"rgba(255,255,255,0)"},{"offset":0.84,"color":"#7a7a7a"},{"offset":0.91,"color":"#7a7a7a"},{"offset":0.91,"color":"rgba(255,255,255,0)"},{"offset":1,"color":"rgba(255,255,255,0)"}]}},
     "encoding":{
      "x":{"field":"lo","type":"quantitative","scale":{"domain":[-1.5,1.5],"nice":false,"zero":false},"axis":{"orient":"bottom","values":[-1,0,1],"tickSize":-9,"labelPadding":16,"labelExpr":"toString(datum.value)","title":"⟨η","titleX":252,"titleY":50}},
      "x2":{"field":"hi"},
      "y":{"field":"b0","type":"quantitative","scale":{"domain":[0,1025],"nice":false,"zero":false},"axis":{"orient":"left","values":[0,500,1000],"tickSize":-13,"labelPadding":22,"labelExpr":"toString(datum.value)","title":"Events","titleFontSize":21,"titleAngle":-90,"titleAlign":"right","titleX":-61,"titleY":0}},
      "y2":{"field":"b1"}}},
    {"data":{"name":"p6d"},"mark":{"type":"rect","fill":"#3ced3c","fillOpacity":0.9},
     "encoding":{
      "x":{"field":"lo","type":"quantitative","scale":{"domain":[-1.5,1.5],"nice":false,"zero":false},"axis":{"orient":"bottom","values":[-0.5,0.5],"tickSize":-5,"labels":false,"domain":false,"title":"jets","titleFontSize":13,"titleX":279,"titleY":33}},
      "x2":{"field":"hi"},
      "y":{"field":"b0","type":"quantitative","scale":{"domain":[0,1025],"nice":false,"zero":false},"axis":{"orient":"left","values":[250,750],"tickSize":-7,"labels":false,"domain":false,"title":null}},
      "y2":{"field":"b1"}}},
    {"data":{"name":"p6g"},"transform":[{"fold":["lo","hi"],"as":["k","edge"]}],
     "mark":{"type":"line","strokeWidth":2,"clip":true},
     "encoding":{
      "x":{"field":"edge","type":"quantitative","scale":{"domain":[-1.5,1.5],"nice":false,"zero":false},"axis":{"orient":"bottom","ticks":false,"labels":false,"domain":false,"title":"⟩","titleX":300,"titleY":50}},
      "y":{"field":"mc","type":"quantitative","scale":{"domain":[0,1025],"nice":false,"zero":false},"axis":null},
      "order":[{"field":"edge","type":"quantitative"},{"field":"k","type":"ordinal"}],
      "stroke":{"datum":"MC RAPGAP - γp","scale":{"range":["#ff0000"]},"legend":{"orient":"none","legendX":23,"legendY":38,"title":null,"symbolType":"M-1,0H1V0.95H-1V-0.95H1V0Z","symbolSize":484,"symbolFillColor":"#bcbcbc","symbolStrokeWidth":2,"symbolDash":[22,1000],"labelFontSize":10,"labelOffset":0}}}},
    {"data":{"name":"p6d"},"transform":[{"fold":["lo","hi"],"as":["k","edge"]}],
     "mark":{"type":"line","color":"#0000ff","clip":true},
     "encoding":{
      "x":{"field":"edge","type":"quantitative","scale":{"domain":[-1.5,1.5],"nice":false,"zero":false},"axis":null},
      "y":{"field":"mc","type":"quantitative","scale":{"domain":[0,1025],"nice":false,"zero":false},"axis":null},
      "order":[{"field":"edge","type":"quantitative"},{"field":"k","type":"ordinal"}],
      "strokeWidth":{"datum":"MC RAPGAP - DIS","scale":{"range":[2,2]},"legend":{"orient":"none","legendX":196,"legendY":38,"title":null,"symbolType":"M-1,0H1V0.95H-1V-0.95H1V0Z","symbolSize":484,"symbolFillColor":"#3ced3c","symbolStrokeColor":"#0000ff","symbolDash":[22,1000],"labelFontSize":8,"labelOffset":-2}}}},
    {"data":{"name":"p6g"},"mark":{"type":"rule","color":"black","strokeWidth":3.5,"clip":true},
     "encoding":{
      "x":{"field":"c","type":"quantitative","scale":{"domain":[-1.5,1.5],"nice":false,"zero":false},"axis":null},
      "y":{"field":"e0","type":"quantitative","scale":{"domain":[0,1025],"nice":false,"zero":false},"axis":null},
      "y2":{"field":"e1"}}},
    {"data":{"name":"p6d"},"mark":{"type":"rule","color":"black","strokeWidth":1.5,"clip":true},
     "encoding":{
      "x":{"field":"c","type":"quantitative","scale":{"domain":[-1.5,1.5],"nice":false,"zero":false},"axis":null},
      "y":{"field":"e0","type":"quantitative","scale":{"domain":[0,1025],"nice":false,"zero":false},"axis":null},
      "y2":{"field":"e1"}}},
    {"data":{"name":"p6g"},"mark":{"type":"point","filled":true,"shape":"circle","color":"black","size":90},
     "encoding":{
      "x":{"field":"c","type":"quantitative","scale":{"domain":[-1.5,1.5],"nice":false,"zero":false},"axis":null},
      "y":{"field":"d","type":"quantitative","scale":{"domain":[0,1025],"nice":false,"zero":false},"axis":null},
      "opacity":{"datum":"H1 VFPS Data - γp","scale":{"range":[1,1]},"legend":{"orient":"none","legendX":23,"legendY":7,"title":null,"symbolType":"M-0.41,0A0.41,0.41,0,1,0,0.41,0A0.41,0.41,0,1,0,-0.41,0Z M-0.1,-1H0.1V-0.37H-0.1Z M-0.1,0.37H0.1V1H-0.1Z","symbolSize":484,"symbolFillColor":"black","symbolStrokeWidth":0,"labelFontSize":10,"labelOffset":2}}}},
    {"data":{"name":"p6d"},"mark":{"type":"point","filled":true,"shape":"triangle-up","size":100,"opacity":1},
     "encoding":{
      "x":{"field":"c","type":"quantitative","scale":{"domain":[-1.5,1.5],"nice":false,"zero":false},"axis":null},
      "y":{"field":"d","type":"quantitative","scale":{"domain":[0,1025],"nice":false,"zero":false},"axis":null},
      "color":{"datum":"H1 VFPS Data x3 - DIS","scale":{"range":["black"]},"legend":{"orient":"none","legendX":196,"legendY":7,"title":null,"symbolType":"M0,-0.5L0.5,0.38L-0.5,0.38Z M-0.06,-1H0.06V-0.45H-0.06Z M-0.06,0.38H0.06V1H-0.06Z","symbolSize":484,"symbolStrokeWidth":0,"symbolOpacity":1,"labelFontSize":8,"labelOffset":3}}}}
   ],
   "resolve":{"axis":{"x":"independent","y":"independent"}}}
]
}
